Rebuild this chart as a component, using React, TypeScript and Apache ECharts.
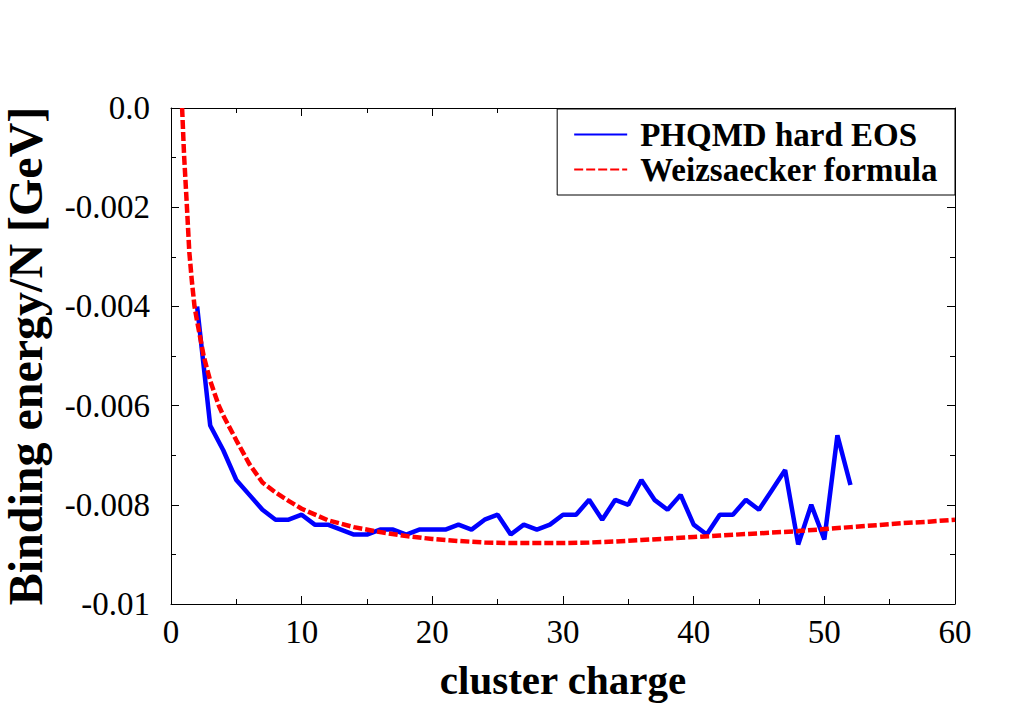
import React, { useEffect, useRef } from "react";
import * as echarts from "echarts";

// PHQMD (hard EOS) binding energy per nucleon vs. cluster charge
const chargePhqmd = [
  2, 3, 4, 5, 6, 7, 8, 9, 10, 11, 12, 13, 14, 15, 16, 17, 18, 19, 20, 21, 22, 23, 24, 25, 26,
  27, 28, 29, 30, 31, 32, 33, 34, 35, 36, 37, 38, 39, 40, 41, 42, 43, 44, 45, 46, 47, 48, 49,
  50, 51, 52,
];
const bindingPhqmd = [
  -0.004, -0.0064, -0.0069, -0.0075, -0.0078, -0.0081, -0.0083, -0.0083, -0.0082, -0.0084,
  -0.0084, -0.0085, -0.0086, -0.0086, -0.0085, -0.0085, -0.0086, -0.0085, -0.0085, -0.0085,
  -0.0084, -0.0085, -0.0083, -0.0082, -0.0086, -0.0084, -0.0085, -0.0084, -0.0082, -0.0082,
  -0.0079, -0.0083, -0.0079, -0.008, -0.0075, -0.0079, -0.0081, -0.0078, -0.0084, -0.0086,
  -0.0082, -0.0082, -0.0079, -0.0081, -0.0077, -0.0073, -0.0088, -0.008, -0.0087, -0.0066,
  -0.0076,
];

// Weizsaecker mass formula curve
const chargeWeiz = [
  0.85, 1.0, 1.2, 1.4, 1.6, 1.8, 2.0, 2.5, 3.0, 3.66, 4, 5, 6, 7, 8, 9, 10, 12, 14, 16, 18, 20,
  22, 24, 26, 28, 30, 32, 34, 36, 38, 40, 42, 44, 46, 48, 50, 52, 54, 56, 58, 60,
];
const bindingWeiz = [
  0.0, -0.00095, -0.0019, -0.0029, -0.0035, -0.004, -0.0043, -0.005, -0.0055, -0.006, -0.0062,
  -0.0067, -0.00718, -0.00755, -0.00775, -0.00792, -0.00808, -0.00831, -0.00845, -0.00855,
  -0.00863, -0.00869, -0.00873, -0.00876, -0.00877, -0.00877, -0.00877, -0.00876, -0.00874,
  -0.00871, -0.00868, -0.00865, -0.00862, -0.00859, -0.00856, -0.00853, -0.00849, -0.00845,
  -0.00841, -0.00837, -0.00834, -0.0083,
];

const seriesNames = ["PHQMD hard EOS", "Weizsaecker formula"];
const xTitle = "cluster charge";
const yTitle = "Binding energy/N [GeV]";

const FONT = "Liberation Serif";

function yLabel(v: number): string {
  const r = Math.round(v * 1000) / 1000;
  if (r === 0) return "0.0";
  if (Math.abs(r + 0.01) < 1e-9) return "-0.01";
  return r.toFixed(3);
}

export default function App() {
  const ref = useRef<HTMLDivElement>(null);

  useEffect(() => {
    if (!ref.current) return;
    const chart = echarts.init(ref.current, undefined, { renderer: "svg" });

    const axisLine = { show: true, onZero: false, lineStyle: { color: "#000", width: 1 } };
    const majorTick = { show: true, inside: true, length: 8, lineStyle: { color: "#000", width: 1 } };
    const minorTick = { show: true, splitNumber: 2, length: 5, lineStyle: { color: "#000", width: 1 } };

    chart.setOption({
      animation: false,
      backgroundColor: "#fff",
      grid: {
        left: 171,
        right: 54,
        top: 108,
        bottom: 110,
        containLabel: false,
        outerBoundsMode: "none",
      },
      legend: {
        data: seriesNames,
        orient: "vertical",
        right: 54,
        top: 109,
        backgroundColor: "#fff",
        borderColor: "#000",
        borderWidth: 1,
        borderRadius: 0,
        padding: [9, 17, 9, 16],
        itemWidth: 53,
        itemHeight: 10,
        itemGap: 2,
        lineStyle: { width: 2 },
        itemStyle: { opacity: 0 },
        textStyle: {
          fontFamily: FONT,
          fontWeight: "bold",
          fontSize: 33,
          color: "#000",
          padding: [0, 0, 0, 8],
        },
      },
      xAxis: [
        {
          type: "value",
          min: 0,
          max: 60,
          interval: 10,
          position: "bottom",
          name: xTitle,
          nameLocation: "middle",
          nameGap: 55,
          nameTextStyle: { fontFamily: FONT, fontWeight: "bold", fontSize: 41, color: "#000" },
          axisLine,
          axisTick: majorTick,
          minorTick,
          splitLine: { show: false },
          axisLabel: { fontFamily: FONT, fontSize: 33, color: "#000", margin: 11 },
        },
        {
          type: "value",
          min: 0,
          max: 60,
          interval: 10,
          position: "top",
          axisLine,
          axisTick: majorTick,
          minorTick,
          splitLine: { show: false },
          axisLabel: { show: false },
        },
      ],
      yAxis: [
        {
          type: "value",
          min: -0.01,
          max: 0,
          interval: 0.002,
          position: "left",
          name: yTitle,
          nameLocation: "middle",
          nameRotate: 90,
          nameGap: 122,
          nameTextStyle: { fontFamily: FONT, fontWeight: "bold", fontSize: 48, color: "#000" },
          axisLine,
          axisTick: majorTick,
          minorTick,
          splitLine: { show: false },
          axisLabel: {
            fontFamily: FONT,
            fontSize: 33,
            color: "#000",
            margin: 21,
            formatter: yLabel,
          },
        },
        {
          type: "value",
          min: -0.01,
          max: 0,
          interval: 0.002,
          position: "right",
          axisLine,
          axisTick: majorTick,
          minorTick,
          splitLine: { show: false },
          axisLabel: { show: false },
        },
      ],
      series: [
        {
          name: seriesNames[0],
          type: "line",
          data: chargePhqmd.map((x, i) => [x, bindingPhqmd[i]]),
          symbol: "none",
          legendIcon: "none",
          color: "#0000ff",
          lineStyle: { color: "#0000ff", width: 4.5 },
          z: 2,
        },
        {
          name: seriesNames[1],
          type: "line",
          data: chargeWeiz.map((x, i) => [x, bindingWeiz[i]]),
          symbol: "none",
          legendIcon: "none",
          color: "#ff0000",
          lineStyle: { color: "#ff0000", width: 4.5, type: [9, 3] },
          z: 3,
        },
      ],
    });

    return () => chart.dispose();
  }, []);

  return (
    <div
      ref={ref}
      style={{ position: "fixed", left: 0, top: 0, width: 1009, height: 714, background: "#fff" }}
    />
  );
}
